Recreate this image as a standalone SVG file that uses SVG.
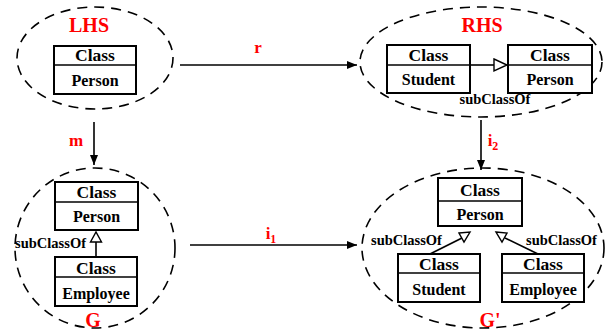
<svg xmlns="http://www.w3.org/2000/svg" width="607" height="332" viewBox="0 0 607 332">
<style>
.ell{fill:none;stroke:#000;stroke-width:1.6;stroke-dasharray:10 7}
.box{fill:#fff;stroke:#000;stroke-width:2}
.div{stroke:#000;stroke-width:1.5}
.cls{font-family:"Liberation Serif",serif;font-weight:bold;font-size:17.5px;text-anchor:middle;fill:#000}
.nm{font-family:"Liberation Serif",serif;font-weight:bold;font-size:16px;text-anchor:middle;fill:#000}
.sub{font-family:"Liberation Serif",serif;font-weight:bold;font-size:14.5px;fill:#000}
.lbl{font-family:"Liberation Serif",serif;font-weight:bold;font-size:20px;text-anchor:middle;fill:#f00}
.elbl{font-family:"Liberation Serif",serif;font-weight:bold;font-size:17px;text-anchor:middle;fill:#f00}
.con{stroke:#000;stroke-width:1.6;fill:none}
.hol{fill:#fff;stroke:#000;stroke-width:1.4}
</style>
<defs>
<marker id="ah" markerWidth="10" markerHeight="8" refX="10" refY="4" orient="auto" markerUnits="userSpaceOnUse">
<path d="M0,0 L10,4 L0,8 Z" fill="#000"/>
</marker>
</defs>

<g id="LHS">
<ellipse class="ell" cx="95" cy="58" rx="78" ry="51"/>
<text class="lbl" x="89" y="32">LHS</text>
<rect class="box" x="54" y="46" width="82" height="48"/>
<line class="div" x1="54" y1="65" x2="136" y2="65"/>
<text class="cls" x="95" y="61">Class</text>
<text class="nm" x="95" y="86">Person</text>
</g>

<g id="RHS">
<ellipse class="ell" cx="481" cy="62" rx="121" ry="55"/>
<text class="lbl" x="482" y="32">RHS</text>
<g id="RHS-Student">
<rect class="box" x="387" y="45" width="83" height="48"/>
<line class="div" x1="387" y1="65" x2="470" y2="65"/>
<text class="cls" x="428.5" y="61">Class</text>
<text class="nm" x="428.5" y="85">Student</text>
</g>
<g id="RHS-Person">
<rect class="box" x="508" y="45" width="84" height="48"/>
<line class="div" x1="508" y1="65" x2="592" y2="65"/>
<text class="cls" x="550" y="61">Class</text>
<text class="nm" x="550" y="85">Person</text>
</g>
<line class="con" x1="470" y1="65" x2="494" y2="65"/>
<polygon class="hol" points="494,59 507,65 494,71"/>
<text class="sub" x="495" y="104" text-anchor="middle">subClassOf</text>
</g>

<g id="G">
<ellipse class="ell" cx="95" cy="248" rx="80" ry="80"/>
<g id="G-Person">
<rect class="box" x="55" y="182" width="83" height="48"/>
<line class="div" x1="55" y1="202" x2="138" y2="202"/>
<text class="cls" x="96.5" y="198">Class</text>
<text class="nm" x="96.5" y="222">Person</text>
</g>
<g id="G-Employee">
<rect class="box" x="55" y="257" width="82" height="49"/>
<line class="div" x1="55" y1="277" x2="137" y2="277"/>
<text class="cls" x="96" y="274">Class</text>
<text class="nm" x="96" y="299">Employee</text>
</g>
<line class="con" x1="96" y1="257" x2="96" y2="242"/>
<polygon class="hol" points="90.5,242 96,232 101.5,242"/>
<text class="sub" x="86" y="248" text-anchor="end">subClassOf</text>
<text class="lbl" x="93" y="327">G</text>
</g>

<g id="Gprime">
<ellipse class="ell" cx="483" cy="248" rx="121" ry="80"/>
<g id="Gp-Person">
<rect class="box" x="438" y="178" width="84" height="48"/>
<line class="div" x1="438" y1="201" x2="522" y2="201"/>
<text class="cls" x="480" y="196">Class</text>
<text class="nm" x="480" y="220">Person</text>
</g>
<g id="Gp-Student">
<rect class="box" x="398" y="254" width="82" height="48"/>
<line class="div" x1="398" y1="273" x2="480" y2="273"/>
<text class="cls" x="439" y="270">Class</text>
<text class="nm" x="439" y="295">Student</text>
</g>
<g id="Gp-Employee">
<rect class="box" x="502" y="254" width="82" height="48"/>
<line class="div" x1="502" y1="273" x2="584" y2="273"/>
<text class="cls" x="543" y="270">Class</text>
<text class="nm" x="543" y="295">Employee</text>
</g>
<line class="con" x1="430" y1="254" x2="462" y2="238"/>
<polygon class="hol" points="459,233 470,232 464,242"/>
<line class="con" x1="538" y1="254" x2="505" y2="238"/>
<polygon class="hol" points="496,232 507,233 502,242"/>
<text class="sub" x="371" y="245">subClassOf</text>
<text class="sub" x="526" y="245">subClassOf</text>
<text class="lbl" x="490" y="327">G'</text>
</g>

<g id="connectors">
<line class="con" x1="180" y1="65" x2="357" y2="65" marker-end="url(#ah)"/>
<text class="elbl" x="258" y="53">r</text>
<line class="con" x1="94" y1="122" x2="94" y2="165" marker-end="url(#ah)"/>
<text class="elbl" x="76" y="146">m</text>
<line class="con" x1="481" y1="120" x2="481" y2="170" marker-end="url(#ah)"/>
<text class="elbl" x="493" y="146">i<tspan font-size="12" dy="4">2</tspan></text>
<line class="con" x1="190" y1="245" x2="357" y2="245" marker-end="url(#ah)"/>
<text class="elbl" x="271" y="239">i<tspan font-size="12" dy="4">1</tspan></text>
</g>
</svg>
